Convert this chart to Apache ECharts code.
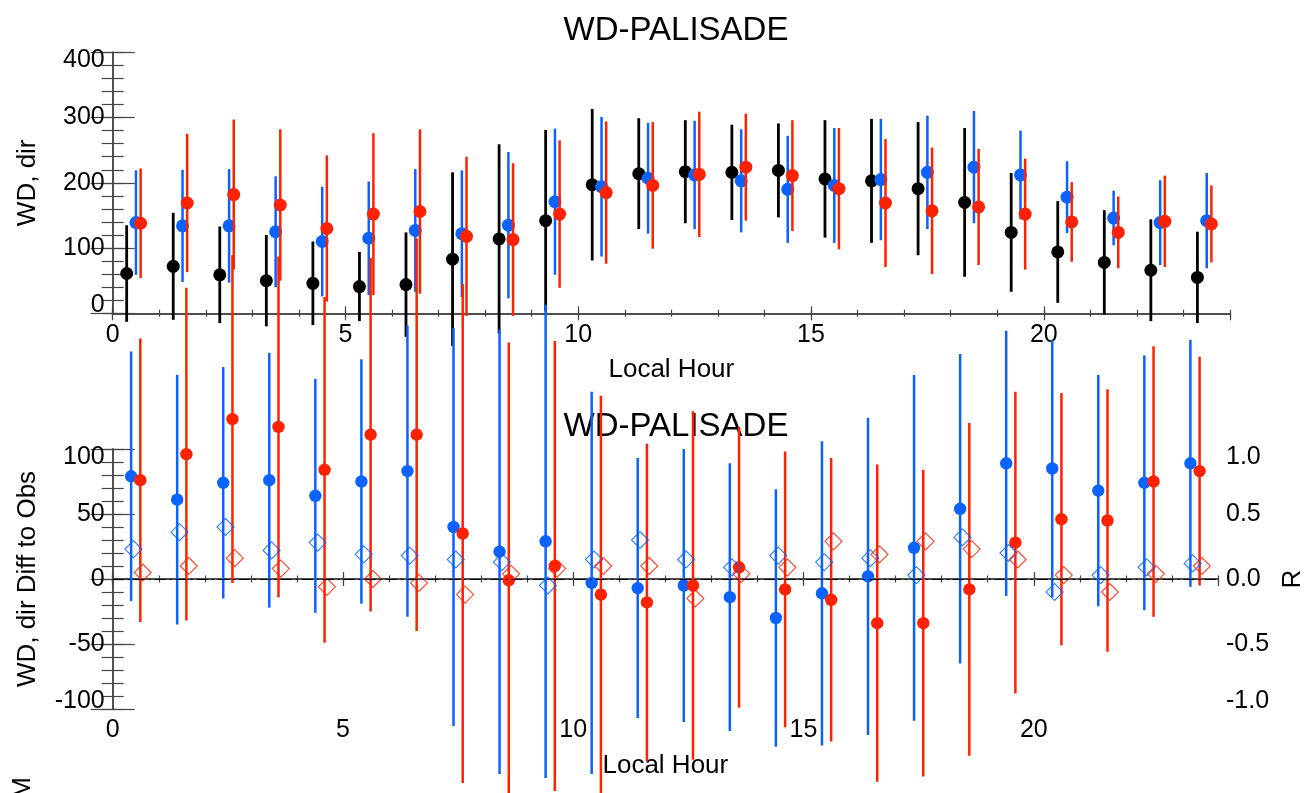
<!DOCTYPE html>
<html>
<head>
<meta charset="utf-8">
<title>WD-PALISADE</title>
<script src="https://cdn.jsdelivr.net/npm/echarts@6/dist/echarts.min.js"></script>
<style>
html, body { margin: 0; padding: 0; background: #fff; }
#main { width: 1314px; height: 793px; }
</style>
</head>
<body>
<div id="main"></div>
<script>
// local hour of each bin
var hours = [0, 1, 2, 3, 4, 5, 6, 7, 8, 9, 10, 11, 12, 13, 14, 15, 16, 17, 18, 19, 20, 21, 22, 23];

// top panel: wind direction (mean and spread)
var obsWD = [61, 72, 59, 50, 46, 41, 44, 83, 114, 142, 197, 214, 217, 216, 219, 206, 203, 191, 170, 124, 94, 78, 66, 55];
var obsSD = [74, 82, 74, 70, 64, 53, 80, 133, 145, 139, 116, 85, 79, 73, 72, 90, 95, 102, 114, 91, 78, 80, 78, 70];
var blueWD = [139, 134, 134, 125, 110, 115, 127, 122, 135, 171, 194, 207, 212, 203, 190, 196, 205, 216, 224, 212, 178, 146, 139, 142];
var blueSD = [80, 86, 87, 85, 84, 87, 94, 97, 112, 112, 107, 85, 83, 79, 82, 88, 93, 87, 86, 68, 55, 42, 65, 73];
var redWD = [138, 169, 182, 166, 130, 152, 156, 118, 113, 152, 185, 196, 213, 224, 211, 191, 169, 157, 163, 152, 140, 124, 141, 137];
var redSD = [84, 106, 115, 116, 112, 124, 126, 122, 117, 113, 109, 97, 96, 82, 85, 93, 98, 97, 89, 85, 61, 55, 70, 59];

// bottom panel: difference to obs (mean and spread) and correlation R
var blueDiff = [79, 61, 74, 76, 64, 75, 83, 40, 21, 29, -3, -7, -5, -14, -30, -11, 2, 24, 54, 89, 85, 68, 74, 89];
var blueDiffSD = [96, 96, 89, 98, 90, 94, 112, 153, 171, 182, 147, 100, 105, 103, 99, 117, 122, 133, 119, 102, 99, 89, 98, 95];
var redDiff = [76, 96, 123, 117, 84, 111, 111, 35, -1, 10, -12, -18, -5, 9, -8, -16, -34, -34, -8, 28, 46, 45, 75, 83];
var redDiffSD = [109, 128, 126, 131, 133, 136, 151, 192, 183, 173, 153, 122, 134, 108, 106, 109, 122, 118, 128, 116, 97, 101, 104, 88];
var blueR = [0.23, 0.36, 0.40, 0.22, 0.28, 0.19, 0.18, 0.15, 0.13, -0.05, 0.15, 0.30, 0.15, 0.09, 0.18, 0.13, 0.16, 0.03, 0.32, 0.20, -0.10, 0.03, 0.09, 0.12];
var redR = [0.05, 0.10, 0.16, 0.08, -0.06, 0.00, -0.03, -0.12, 0.04, 0.08, 0.10, 0.10, -0.15, 0.04, 0.09, 0.29, 0.19, 0.29, 0.23, 0.15, 0.03, -0.10, 0.04, 0.10];

var BLACK = '#000000';
var BLUE = '#0a62ff';
var RED = '#ff2200';
var AXIS = '#444444';
var FONT = 'Liberation Sans';

// [hour + shift, value, spread]
function points(vals, sds, shift) {
    return hours.map(function (h, i) {
        return [h + shift, vals[i], sds[i]];
    });
}

function rPoints(vals, shift) {
    return hours.map(function (h, i) {
        return [h + shift, vals[i]];
    });
}

// vertical bar +- spread with a filled dot
function errorBar(color, width, radius) {
    return function (params, api) {
        var x = api.value(0);
        var v = api.value(1);
        var sd = api.value(2);
        var c = api.coord([x, v]);
        var hi = api.coord([x, v + sd]);
        var lo = api.coord([x, v - sd]);
        return {
            type: 'group',
            children: [{
                type: 'line',
                shape: { x1: c[0], y1: hi[1], x2: c[0], y2: lo[1] },
                style: { stroke: color, lineWidth: width }
            }, {
                type: 'circle',
                shape: { cx: c[0], cy: c[1], r: radius },
                style: { fill: color }
            }]
        };
    };
}

function barSeries(data, color, width, radius, xi, yi) {
    return {
        type: 'custom',
        xAxisIndex: xi,
        yAxisIndex: yi,
        clip: false,
        dimensions: ['x', 'y', 'sd'],
        encode: { x: 0, y: 1 },
        data: data,
        renderItem: errorBar(color, width, radius)
    };
}

function diamondSeries(data, color) {
    return {
        type: 'scatter',
        xAxisIndex: 4,
        yAxisIndex: 6,
        clip: false,
        symbol: 'diamond',
        symbolSize: 17,
        itemStyle: { color: 'rgba(0,0,0,0)', borderColor: color, borderWidth: 1.2 },
        data: data
    };
}

var labelStyle = { fontFamily: FONT, fontSize: 25, color: '#000' };
var nameStyle = { fontFamily: FONT, fontSize: 26, color: '#000' };

// 4 x axes per panel: major/minor ticks at bottom and top
function xAxes(gi) {
    return [{
        gridIndex: gi, type: 'value', position: 'bottom', min: 0, max: 24, interval: 5,
        axisLine: { show: true, lineStyle: { color: AXIS, width: 1.5 } },
        axisTick: { inside: true, length: 7, lineStyle: { color: AXIS, width: 1.2 } },
        axisLabel: Object.assign({ margin: 9, showMaxLabel: false }, labelStyle),
        splitLine: { show: false },
        name: 'Local Hour', nameLocation: 'middle', nameGap: 44, nameTextStyle: nameStyle
    }, {
        gridIndex: gi, type: 'value', position: 'bottom', min: 0, max: 24, interval: 1,
        axisLine: { show: false },
        axisTick: { inside: true, length: 3.5, lineStyle: { color: AXIS, width: 1.2 } },
        axisLabel: { show: false },
        splitLine: { show: false }
    }, {
        gridIndex: gi, type: 'value', position: 'top', min: 0, max: 24, interval: 5,
        axisLine: { show: true, lineStyle: { color: AXIS, width: 1.5 } },
        axisTick: { inside: true, length: 7, lineStyle: { color: AXIS, width: 1.2 } },
        axisLabel: { show: false },
        splitLine: { show: false }
    }, {
        gridIndex: gi, type: 'value', position: 'top', min: 0, max: 24, interval: 1,
        axisLine: { show: false },
        axisTick: { inside: true, length: 3.5, lineStyle: { color: AXIS, width: 1.2 } },
        axisLabel: { show: false },
        splitLine: { show: false }
    }];
}

// 2 y axes per side: major ticks (with labels) and minor ticks
function yAxes(gi, pos, min, max, major, minor, showLabel, extra) {
    var main = {
        gridIndex: gi, type: 'value', position: pos, min: min, max: max, interval: major,
        axisLine: { show: true, lineStyle: { color: AXIS, width: 1.5 } },
        axisTick: { inside: true, length: 22, lineStyle: { color: AXIS, width: 1.2 } },
        axisLabel: Object.assign({
            show: showLabel, margin: 8, lineHeight: 16,
            verticalAlignMinLabel: 'bottom', verticalAlignMaxLabel: 'top'
        }, labelStyle),
        splitLine: { show: false }
    };
    var small = {
        gridIndex: gi, type: 'value', position: pos, min: min, max: max, interval: minor,
        axisLine: { show: false },
        axisTick: { inside: true, length: 11, lineStyle: { color: AXIS, width: 1.2 } },
        axisLabel: { show: false },
        splitLine: { show: false }
    };
    return [Object.assign(main, extra || {}), small];
}

var chart = echarts.init(document.getElementById('main'));

var yAxisList = []
    .concat(yAxes(0, 'left', 0, 400, 100, 20, true, {
        name: 'WD, dir', nameLocation: 'middle', nameGap: 72, nameRotate: 90, nameTextStyle: nameStyle
    }))
    .concat(yAxes(0, 'right', 0, 400, 100, 20, false))
    .concat(yAxes(1, 'left', -100, 100, 50, 10, true, {
        name: 'WD, dir Diff to Obs', nameLocation: 'middle', nameGap: 72, nameRotate: 90, nameTextStyle: nameStyle
    }))
    .concat(yAxes(1, 'right', -1, 1, 0.5, 0.1, true, {
        name: 'R', nameLocation: 'middle', nameGap: 50, nameRotate: 90, nameTextStyle: nameStyle
    }));
// 右侧 R 轴刻度标签一位小数
yAxisList[6].axisLabel.formatter = function (v) { return v.toFixed(1); };

chart.setOption({
    animation: false,
    backgroundColor: '#fff',
    title: [{
        text: 'WD-PALISADE', left: 671, top: 9, textAlign: 'center', z: 1,
        textStyle: { fontFamily: FONT, fontSize: 33, fontWeight: 'normal', color: '#000' }
    }, {
        text: 'WD-PALISADE', left: 671, top: 405, textAlign: 'center', z: 1,
        textStyle: { fontFamily: FONT, fontSize: 33, fontWeight: 'normal', color: '#000' }
    }],
    grid: [
        { left: 112.7, right: 84, top: 52.3, height: 261 },
        { left: 112.7, right: 84, top: 449, height: 260 }
    ],
    xAxis: xAxes(0).concat(xAxes(1)),
    yAxis: yAxisList,
    graphic: [{
        type: 'text', x: 23, y: 788, rotation: Math.PI / 2,
        style: { text: 'M', font: '26px "Liberation Sans"', fill: '#000', align: 'center', verticalAlign: 'middle' }
    }],
    series: [
        // top panel
        barSeries(points(obsWD, obsSD, 0.3), BLACK, 2.8, 6.5, 0, 0),
        barSeries(points(blueWD, blueSD, 0.5), BLUE, 2.5, 6.5, 0, 0),
        barSeries(points(redWD, redSD, 0.6), RED, 2.5, 6.5, 0, 0),
        // bottom panel
        barSeries(points(blueDiff, blueDiffSD, 0.4), BLUE, 2.5, 6.2, 4, 4),
        barSeries(points(redDiff, redDiffSD, 0.6), RED, 2.5, 6.2, 4, 4),
        Object.assign(diamondSeries(rPoints(blueR, 0.45), BLUE), {
            markLine: {
                silent: true,
                symbol: ['none', 'none'],
                label: { show: false },
                lineStyle: { color: '#000', width: 1.2, type: [11, 4, 2, 4] },
                data: [[{ coord: [0, 0] }, { coord: [24, 0] }]]
            }
        }),
        diamondSeries(rPoints(redR, 0.65), RED)
    ]
});
</script>
</body>
</html>
